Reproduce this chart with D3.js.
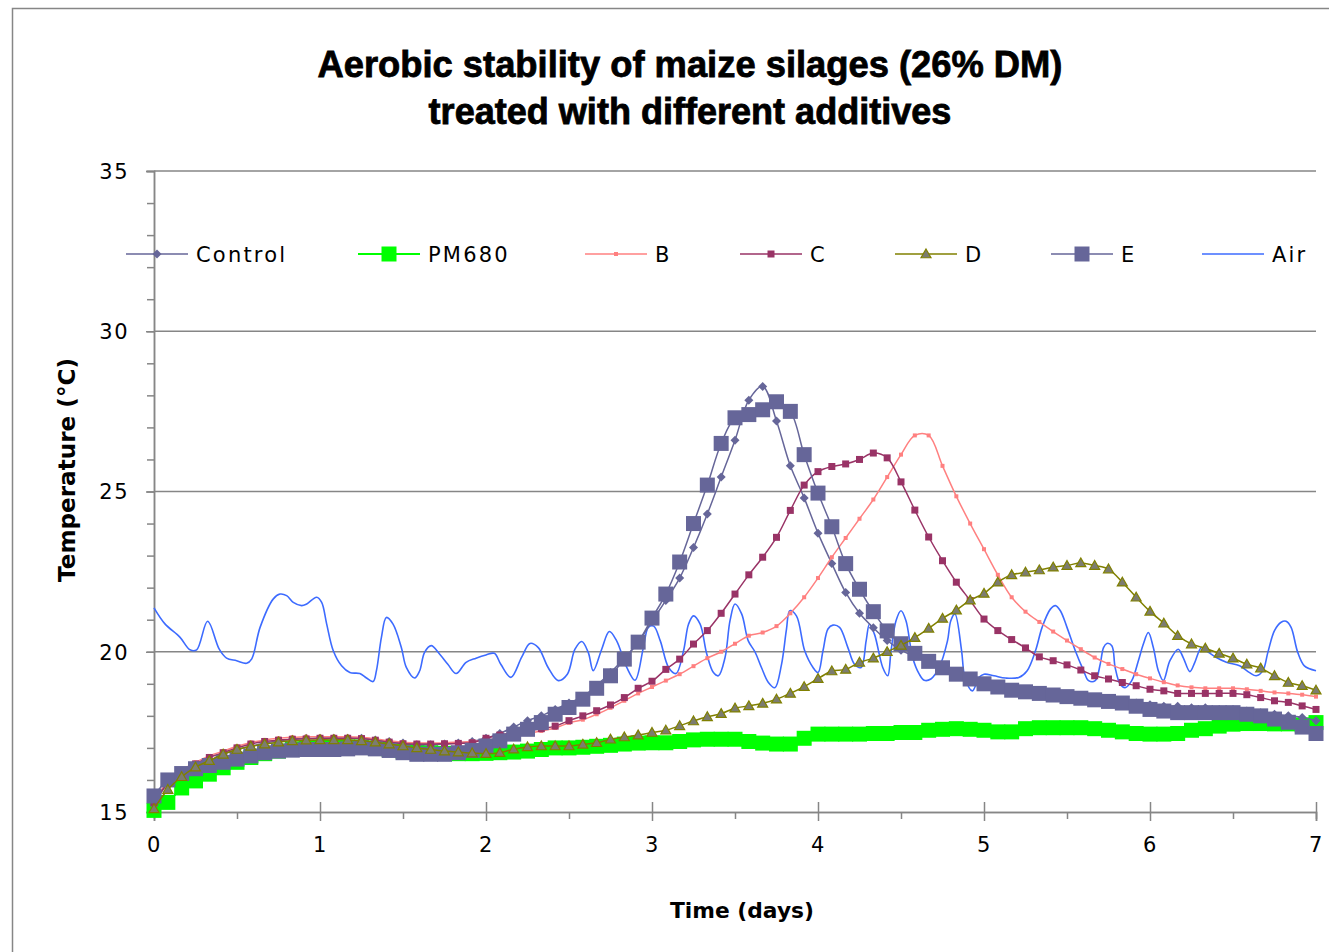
<!DOCTYPE html>
<html>
<head>
<meta charset="utf-8">
<script src="https://cdn.jsdelivr.net/npm/d3@7/dist/d3.min.js"></script>
<style>
  body { margin: 0; background: #fff; }
  svg { display: block; font-family: "DejaVu Sans", sans-serif; }
</style>
</head>
<body>
<div id="chart"></div>
<script>
// Temperature readings (°C), one every 2 hours (12 per day), day 0 .. day 7
const readingsPerDay = 12;

const control = [
  15.2, 15.9, 16.2, 16.45, 16.6, 16.8, 16.95, 17.05, 17.15, 17.22, 17.27, 17.3,
  17.3, 17.3, 17.3, 17.3, 17.25, 17.2, 17.15, 17.1, 17.1, 17.12, 17.15, 17.2,
  17.3, 17.45, 17.65, 17.85, 18.0, 18.2, 18.4, 18.6, 18.95, 19.35, 19.8, 20.3,
  20.95, 21.6, 22.3, 23.25, 24.3, 25.45, 26.6, 27.85, 28.28, 27.2, 25.8, 24.8,
  23.7, 22.75, 21.85, 21.2, 20.75, 20.35, 20.05, 19.85, 19.65, 19.5, 19.35, 19.2,
  19.05, 18.95, 18.85, 18.8, 18.75, 18.7, 18.65, 18.6, 18.55, 18.5, 18.45, 18.4,
  18.35, 18.3, 18.3, 18.25, 18.25, 18.2, 18.2, 18.15, 18.1, 18.05, 18.0, 17.95,
  17.85
];

const pm680 = [
  15.05, 15.3, 15.75, 15.97, 16.18, 16.38, 16.55, 16.7, 16.82, 16.9, 16.97, 17.0,
  17.02, 17.03, 17.03, 17.03, 17.0, 16.95, 16.9, 16.87, 16.85, 16.83, 16.82, 16.82,
  16.83, 16.85, 16.87, 16.9, 16.95, 17.0, 17.0, 17.02, 17.05, 17.08, 17.12, 17.15,
  17.16, 17.16, 17.2, 17.25, 17.27, 17.27, 17.27, 17.2, 17.15, 17.12, 17.12, 17.3,
  17.43, 17.43, 17.43, 17.43, 17.45, 17.45, 17.48, 17.48, 17.55, 17.58, 17.6, 17.58,
  17.55, 17.5, 17.5, 17.6, 17.63, 17.63, 17.63, 17.63, 17.6, 17.55, 17.5, 17.45,
  17.43, 17.43, 17.45, 17.55, 17.6, 17.68, 17.74, 17.76, 17.76, 17.75, 17.75, 17.72,
  17.79
];

const seriesB = [
  15.3, 15.95, 16.3, 16.55, 16.75, 16.9, 17.05, 17.17, 17.25, 17.3, 17.33, 17.35,
  17.35, 17.35, 17.35, 17.33, 17.28, 17.22, 17.18, 17.16, 17.15, 17.16, 17.18, 17.2,
  17.25, 17.3, 17.38, 17.45, 17.53, 17.62, 17.78, 17.88, 18.05, 18.25, 18.47, 18.7,
  18.9, 19.1, 19.3, 19.55, 19.8, 20.0, 20.25, 20.5, 20.6, 20.8, 21.2, 21.7,
  22.3, 22.95, 23.55, 24.15, 24.75, 25.45, 26.15, 26.75, 26.75, 25.8, 24.85, 24.0,
  23.2, 22.4, 21.7, 21.25, 20.93, 20.63, 20.35, 20.08, 19.82, 19.62, 19.46, 19.3,
  19.17, 19.05, 18.95, 18.89, 18.86, 18.86, 18.86, 18.83, 18.78, 18.73, 18.7, 18.66,
  18.6
];

const seriesC = [
  15.3, 15.9, 16.25, 16.5, 16.7, 16.85, 17.0, 17.12, 17.2, 17.24, 17.27, 17.28,
  17.3, 17.3, 17.3, 17.29, 17.24, 17.18, 17.13, 17.12, 17.12, 17.13, 17.14, 17.16,
  17.3, 17.4, 17.48, 17.53, 17.6, 17.68, 17.85, 18.0, 18.16, 18.34, 18.57, 18.86,
  19.08, 19.45, 19.77, 20.24, 20.66, 21.2, 21.8, 22.4, 22.95, 23.57, 24.41, 25.2,
  25.62, 25.78, 25.86, 26.0, 26.2, 26.05, 25.3, 24.42, 23.58, 22.84, 22.17, 21.6,
  21.02, 20.66, 20.38, 20.12, 19.84, 19.72, 19.59, 19.43, 19.25, 19.15, 19.04, 18.94,
  18.83, 18.78, 18.7, 18.7, 18.7, 18.7, 18.7, 18.66, 18.57, 18.47, 18.42, 18.31,
  18.2
];

const seriesD = [
  15.1, 15.7, 16.1, 16.4, 16.6, 16.8, 16.95, 17.05, 17.12, 17.18, 17.22, 17.24,
  17.25, 17.25, 17.25, 17.22, 17.18, 17.12, 17.06, 17.0, 16.95, 16.9, 16.87, 16.84,
  16.82, 16.85, 16.96, 17.03, 17.06, 17.06, 17.06, 17.11, 17.16, 17.27, 17.34, 17.4,
  17.48, 17.55, 17.69, 17.84, 17.97, 18.07, 18.24, 18.31, 18.39, 18.52, 18.7, 18.91,
  19.16, 19.4, 19.45, 19.67, 19.8, 20.0, 20.2, 20.44, 20.73, 21.04, 21.3, 21.61,
  21.82, 22.17, 22.4, 22.48, 22.55, 22.64, 22.69, 22.77, 22.69, 22.58, 22.17, 21.7,
  21.26, 20.89, 20.5, 20.24, 20.11, 19.95, 19.8, 19.61, 19.49, 19.25, 19.04, 18.94,
  18.8
];

const seriesE = [
  15.5, 16.0, 16.2, 16.35, 16.45, 16.55, 16.65, 16.75, 16.85, 16.9, 16.93, 16.95,
  16.95, 16.95, 16.97, 17.0, 16.97, 16.92, 16.85, 16.8, 16.8, 16.8, 16.85, 16.92,
  17.06, 17.22, 17.43, 17.58, 17.79, 18.05, 18.26, 18.52, 18.86, 19.25, 19.77, 20.3,
  21.05, 21.8, 22.8, 24.0, 25.2, 26.5, 27.3, 27.4, 27.55, 27.8, 27.5, 26.15,
  24.95, 23.9, 22.75, 21.95, 21.25, 20.65, 20.25, 19.95, 19.7, 19.5, 19.3, 19.15,
  19.0, 18.9, 18.8, 18.75, 18.7, 18.65, 18.6, 18.55, 18.5, 18.45, 18.4, 18.3,
  18.2, 18.15, 18.1, 18.1, 18.1, 18.1, 18.1, 18.05, 18.0, 17.9, 17.8, 17.65,
  17.45
];

// Air temperature, logged at its own (irregular) times
const airDays = [
  0, 0.066, 0.157, 0.217, 0.257, 0.323, 0.393, 0.437, 0.498, 0.558, 0.589, 0.639, 0.719, 0.759, 0.799, 0.839, 0.889, 0.92, 0.98,
  1.01, 1.04, 1.08, 1.13, 1.18, 1.24, 1.28, 1.32, 1.34, 1.37, 1.40, 1.44, 1.49, 1.52, 1.57, 1.60, 1.63, 1.67, 1.72, 1.77, 1.82, 1.88, 1.94,
  2.0, 2.05, 2.09, 2.15, 2.215, 2.265, 2.315, 2.375, 2.435, 2.49, 2.536, 2.577, 2.616, 2.646, 2.697, 2.743, 2.787, 2.848, 2.898, 2.948, 2.978,
  3.01, 3.05, 3.10, 3.145, 3.19, 3.22, 3.25, 3.29, 3.33, 3.37, 3.40, 3.44, 3.47, 3.50, 3.54, 3.58, 3.62, 3.66, 3.70, 3.74, 3.78, 3.81, 3.83, 3.87, 3.92, 3.97,
  4.00, 4.03, 4.06, 4.09, 4.13, 4.18, 4.22, 4.26, 4.29, 4.31, 4.34, 4.39, 4.42, 4.44, 4.47, 4.50, 4.53, 4.57, 4.61, 4.64, 4.68, 4.73, 4.78, 4.80, 4.825, 4.865, 4.885, 4.93, 4.97,
  5.0, 5.06, 5.13, 5.21, 5.26, 5.31, 5.35, 5.40, 5.43, 5.46, 5.50, 5.55, 5.60, 5.63, 5.67, 5.70, 5.72, 5.74, 5.77, 5.79, 5.82, 5.85, 5.89, 5.93, 5.96, 5.99,
  6.02, 6.05, 6.08, 6.12, 6.17, 6.20, 6.24, 6.27, 6.31, 6.34, 6.40, 6.46, 6.54, 6.60, 6.64, 6.68, 6.71, 6.75, 6.79, 6.82, 6.85, 6.89, 6.93, 7.0
];
const airTemps = [
  21.37, 20.87, 20.45, 20.06, 20.06, 20.95, 20.08, 19.8, 19.72, 19.64, 19.78, 20.76, 21.65, 21.8, 21.75, 21.54, 21.44, 21.49, 21.7,
  21.54, 20.87, 20.03, 19.56, 19.35, 19.32, 19.18, 19.07, 19.41, 20.45, 21.07, 20.86, 20.13, 19.51, 19.18, 19.4, 19.98, 20.19, 19.93, 19.61, 19.32, 19.67, 19.8,
  19.9, 19.95, 19.6, 19.2, 19.83, 20.26, 20.13, 19.5, 19.1, 19.3, 20.08, 20.32, 19.98, 19.41, 20.08, 20.63, 20.34, 19.51, 19.11, 20.13, 20.76,
  20.8, 20.34, 19.51, 19.32, 20.03, 20.86, 21.12, 20.86, 19.93, 19.35, 19.25, 19.82, 20.97, 21.49, 21.18, 20.34, 20.0, 19.5, 19.05, 18.88, 19.6, 20.7, 21.28, 21.12, 20.03, 19.51,
  19.35, 20.03, 20.71, 20.83, 20.76, 20.13, 19.61, 19.51, 20.34, 20.86, 20.55, 19.51, 19.25, 20.03, 20.97, 21.28, 20.97, 19.82, 19.3, 19.11, 19.15, 19.51, 20.34, 20.97, 21.18, 20.03, 19.2, 18.78, 19.2,
  19.3, 19.25, 19.18, 19.2, 19.41, 20.03, 20.76, 21.33, 21.44, 21.28, 20.76, 20.03, 19.41, 19.1, 19.1, 19.61, 20.13, 20.26, 20.19, 19.51, 18.99, 18.88, 19.1, 19.72, 20.24, 20.6,
  20.13, 19.41, 19.1, 19.72, 20.08, 19.82, 19.38, 19.67, 20.13, 20.03, 19.82, 19.67, 19.56, 19.35, 19.25, 19.41, 19.98, 20.66, 20.92, 20.95, 20.76, 19.98, 19.56, 19.41
];

const seriesNames = ['Control', 'PM680', 'B', 'C', 'D', 'E', 'Air'];
const yTicks = [15, 20, 25, 30, 35];
const xTicks = [0, 1, 2, 3, 4, 5, 6, 7];

const titleLines = ['Aerobic stability of maize silages (26% DM)', 'treated with different additives'];
const xTitle = 'Time (days)';
const yTitle = 'Temperature (°C)';

// ---- drawing ----
const W = 1329, H = 952;
const margin = { top: 171, right: 13, bottom: 140, left: 154 };
const plotW = W - margin.left - margin.right;   // 1162
const plotH = H - margin.top - margin.bottom;   // 641
const axisColor = '#868686';

const svg = d3.select('#chart').append('svg')
  .attr('width', W).attr('height', H);

svg.append('rect').attr('width', W).attr('height', H).attr('fill', '#fff');

// chart frame
svg.append('rect')
  .attr('x', 12.5).attr('y', 8.5)
  .attr('width', W + 20).attr('height', H + 20)
  .attr('fill', 'none').attr('stroke', axisColor).attr('stroke-width', 1.5);

const g = svg.append('g').attr('transform', `translate(${margin.left},${margin.top})`);

const x = d3.scaleLinear().domain([0, 7]).range([0, plotW]);
const y = d3.scaleLinear().domain([15, 35]).range([plotH, 0]);

// gridlines
g.append('g')
  .selectAll('line')
  .data(yTicks.filter(t => t > 15))
  .join('line')
  .attr('x1', 0).attr('x2', plotW)
  .attr('y1', d => y(d)).attr('y2', d => y(d))
  .attr('stroke', axisColor).attr('stroke-width', 1.5);

// y axis: minor ticks, then major ticks + labels
const yMinor = g.append('g')
  .call(d3.axisLeft(y).tickValues(d3.range(15, 35.5, 1)).tickSize(7).tickFormat(''));
const yAxis = g.append('g')
  .call(d3.axisLeft(y).tickValues(yTicks).tickSize(8).tickPadding(17).tickFormat(d3.format('d')));

// x axis
const xMinor = g.append('g').attr('transform', `translate(0,${plotH})`)
  .call(d3.axisBottom(x).tickValues(d3.range(0.5, 7, 1)).tickSize(7).tickFormat(''));
const xAxis = g.append('g').attr('transform', `translate(0,${plotH})`)
  .call(d3.axisBottom(x).tickValues(xTicks).tickSize(9).tickPadding(16).tickFormat(d3.format('d')));
xAxis.selectAll('.tick line').attr('y1', -10);

[yMinor, yAxis, xMinor, xAxis].forEach(a => {
  a.select('.domain').attr('stroke', axisColor).attr('stroke-width', 1.5);
  a.selectAll('.tick line').attr('stroke', axisColor).attr('stroke-width', 1.5);
  a.selectAll('text')
    .attr('font-family', '"DejaVu Sans", sans-serif')
    .attr('font-size', 21)
    .attr('letter-spacing', 1.5)
    .attr('fill', '#000');
});
yAxis.selectAll('text').attr('dy', '0.35em');

// marker shapes
function markerPath(type, s) {
  const h = s / 2;
  if (type === 'square') return `M${-h},${-h}h${s}v${s}h${-s}Z`;
  if (type === 'diamond') return `M0,${-h}L${h},0L0,${h}L${-h},0Z`;
  if (type === 'triangle') return `M0,${-h}L${h},${h * 0.75}L${-h},${h * 0.75}Z`;
  return '';
}

const days = d3.range(control.length).map(i => i / readingsPerDay);
const toPoints = vals => vals.map((v, i) => [days[i], v]);

const series = [
  { name: 'Air', points: airDays.map((d, i) => [d, airTemps[i]]), color: '#3d6bff', width: 1.6, marker: null },
  { name: 'PM680', points: toPoints(pm680), color: '#00ff00', width: 2, marker: 'square', size: 15, fill: '#00ff00' },
  { name: 'Control', points: toPoints(control), color: '#666699', width: 1.5, marker: 'diamond', size: 9, fill: '#666699' },
  { name: 'B', points: toPoints(seriesB), color: '#ff8080', width: 1.5, marker: 'square', size: 4, fill: '#ff8080' },
  { name: 'C', points: toPoints(seriesC), color: '#993366', width: 1.5, marker: 'square', size: 7, fill: '#993366' },
  { name: 'E', points: toPoints(seriesE), color: '#666699', width: 1.5, marker: 'square', size: 15, fill: '#666699' },
  { name: 'D', points: toPoints(seriesD), color: '#808000', width: 1.5, marker: 'triangle', size: 10, fill: '#7c7c70' }
];

const line = d3.line()
  .x(d => x(d[0])).y(d => y(d[1]))
  .curve(d3.curveCatmullRom.alpha(0.5));

series.forEach(s => {
  const sg = g.append('g').attr('class', 'series');
  sg.append('path')
    .attr('d', line(s.points))
    .attr('fill', 'none')
    .attr('stroke', s.color)
    .attr('stroke-width', s.width);
  if (s.marker) {
    sg.selectAll('path.mk')
      .data(s.points)
      .join('path')
      .attr('class', 'mk')
      .attr('transform', d => `translate(${x(d[0])},${y(d[1])})`)
      .attr('d', markerPath(s.marker, s.size))
      .attr('fill', s.fill)
      .attr('stroke', s.marker === 'triangle' ? s.color : 'none')
      .attr('stroke-width', 1.2);
  }
});

// legend (inside the plot, top)
const legendX = [126, 358, 585, 740, 895, 1051, 1202];
const legendY = 254;
const byName = Object.fromEntries(series.map(s => [s.name, s]));
const legend = svg.append('g');
seriesNames.forEach((name, i) => {
  const s = byName[name];
  const lg = legend.append('g').attr('transform', `translate(${legendX[i]},${legendY})`);
  lg.append('line').attr('x1', 0).attr('x2', 62)
    .attr('stroke', s.color).attr('stroke-width', s.width);
  if (s.marker) {
    lg.append('path')
      .attr('transform', 'translate(31,0)')
      .attr('d', markerPath(s.marker, s.size))
      .attr('fill', s.fill)
      .attr('stroke', s.marker === 'triangle' ? s.color : 'none')
      .attr('stroke-width', 1.2);
  }
  lg.append('text')
    .attr('x', 70).attr('y', 0).attr('dy', '0.36em')
    .attr('font-size', 21).attr('letter-spacing', 2.2)
    .text(name);
});

// fit a text element to a measured width
function fitWidth(sel, target) {
  const w = sel.node().getComputedTextLength();
  const fs = parseFloat(sel.attr('font-size'));
  sel.attr('font-size', (fs * target / w).toFixed(2));
}

// title
const t1 = svg.append('text')
  .attr('x', 690).attr('y', 77).attr('text-anchor', 'middle')
  .attr('font-family', '"Liberation Sans", Arial, sans-serif')
  .attr('font-weight', 'bold').attr('font-size', 30)
  .attr('stroke', '#000').attr('stroke-width', 0.8)
  .text(titleLines[0]);
fitWidth(t1, 745);
const t2 = svg.append('text')
  .attr('x', 690).attr('y', 124).attr('text-anchor', 'middle')
  .attr('font-family', '"Liberation Sans", Arial, sans-serif')
  .attr('font-weight', 'bold').attr('font-size', 30)
  .attr('stroke', '#000').attr('stroke-width', 0.8)
  .text(titleLines[1]);
fitWidth(t2, 523);

// axis titles
const xt = svg.append('text')
  .attr('x', 742).attr('y', 918).attr('text-anchor', 'middle')
  .attr('font-size', 20).attr('font-weight', 'bold')
  .text(xTitle);
fitWidth(xt, 144);

const yt = svg.append('text')
  .attr('transform', 'translate(75,470) rotate(-90)')
  .attr('text-anchor', 'middle')
  .attr('font-size', 20).attr('font-weight', 'bold')
  .text(yTitle);
fitWidth(yt, 224);
</script>
</body>
</html>
